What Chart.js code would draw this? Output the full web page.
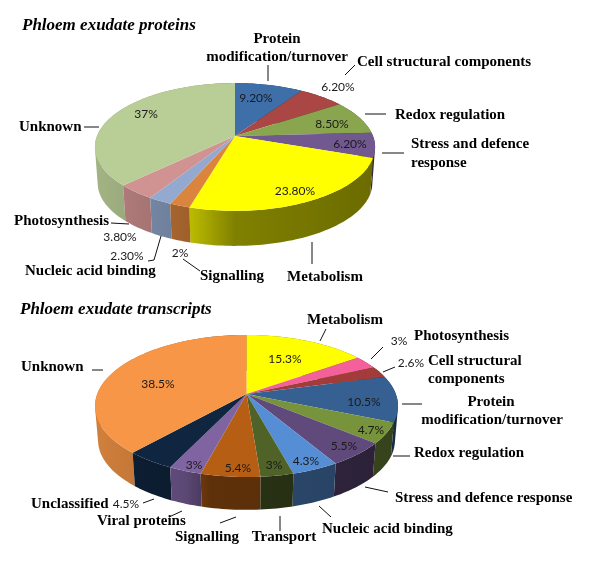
<!DOCTYPE html>
<html>
<head>
<meta charset="utf-8">
<style>
  html, body { margin: 0; padding: 0; background: #fff; }
  canvas { position: absolute; left: 0; filter: blur(0.3px); }
  #proteinChart { top: 0; }
  #transcriptChart { top: 290px; }
</style>
<script src="https://cdn.jsdelivr.net/npm/chart.js@4"></script>
</head>
<body>
<canvas id="proteinChart" width="600" height="290"></canvas>
<canvas id="transcriptChart" width="600" height="276"></canvas>
<script>
const proteinCategories = ['Protein modification/turnover', 'Cell structural components', 'Redox regulation', 'Stress and defence response', 'Metabolism', 'Signalling', 'Nucleic acid binding', 'Photosynthesis', 'Unknown'];
const proteinValues = [9.2, 6.2, 8.5, 6.2, 23.8, 2, 2.3, 3.8, 37];
const proteinPercents = ['9.20%', '6.20%', '8.50%', '6.20%', '23.80%', '2%', '2.30%', '3.80%', '37%'];
const proteinColors = ['#3F6FA8', '#AA4643', '#89A54E', '#71588F', '#FFFF00', '#DB843D', '#93A9CF', '#D19392', '#B9CD96'];

const transcriptCategories = ['Metabolism', 'Photosynthesis', 'Cell structural components', 'Protein modification/turnover', 'Redox regulation', 'Stress and defence response', 'Nucleic acid binding', 'Transport', 'Signalling', 'Viral proteins', 'Unclassified', 'Unknown'];
const transcriptValues = [15.3, 3, 2.6, 10.5, 4.7, 5.5, 4.3, 3, 5.4, 3, 4.5, 38.5];
const transcriptPercents = ['15.3%', '3%', '2.6%', '10.5%', '4.7%', '5.5%', '4.3%', '3%', '5.4%', '3%', '4.5%', '38.5%'];
const transcriptColors = ['#FFFF00', '#F4609A', '#A33B3B', '#376092', '#77933C', '#604A7B', '#558ED5', '#4F6228', '#B65F14', '#8064A2', '#10253F', '#F79646'];

// where the percent labels sit, same order as the values
const proteinPercentPos = [[256,98],[338,87],[332,124],[350,144],[295,191],[180,253],[127,256],[120,237],[146,114]];
const transcriptPercentPos = [[285,69],[399,51],[411,73],[364,112],[371,140],[344,156],[306,171],[274,175],[238,178],[194,175],[126,214],[158,94]];

// [text, x, y, align]
const proteinNames = [
  ['Protein', 277, 39, 'center'], ['modification/turnover', 277, 57, 'center'],
  ['Cell structural components', 357, 62, 'left'], ['Redox regulation', 395, 115, 'left'],
  ['Stress and defence', 411, 144, 'left'], ['response', 411, 163, 'left'],
  ['Metabolism', 325, 277, 'center'], ['Signalling', 232, 276, 'center'],
  ['Nucleic acid binding', 25, 271, 'left'], ['Photosynthesis', 14, 221, 'left'], ['Unknown', 19, 127, 'left']
];
const transcriptNames = [
  ['Metabolism', 345, 30, 'center'], ['Photosynthesis', 414, 46, 'left'],
  ['Cell structural', 428, 71, 'left'], ['components', 428, 89, 'left'],
  ['Protein', 491, 112, 'center'], ['modification/turnover', 492, 130, 'center'],
  ['Redox regulation', 414, 163, 'left'], ['Stress and defence response', 395, 208, 'left'],
  ['Nucleic acid binding', 322, 239, 'left'], ['Transport', 284, 247, 'center'],
  ['Signalling', 207, 247, 'center'], ['Viral proteins', 97, 231, 'left'],
  ['Unclassified', 31, 214, 'left'], ['Unknown', 21, 77, 'left']
];

const proteinLeaders = [
  [[268,65],[268,81]], [[345,75],[355,65]], [[365,114],[386,114]], [[382,153],[404,153]],
  [[312,242],[312,264]], [[183,259],[200,271]], [[161,236],[154,260],[148,261]],
  [[111,223],[129,224]], [[84,127],[99,127]]
];
const transcriptLeaders = [
  [[326,39],[320,51]], [[383,57],[371,69]], [[395,77],[383,82]], [[402,114],[422,114]],
  [[393,166],[410,166]], [[365,197],[388,202]], [[319,216],[331,227]], [[280,226],[280,241]],
  [[236,227],[220,233]], [[182,221],[169,227]], [[154,209],[143,213]], [[92,80],[103,80]]
];

function shade(hex, f) {
  const n = parseInt(hex.slice(1), 16);
  return `rgb(${Math.round((n >> 16) * f)},${Math.round(((n >> 8) & 255) * f)},${Math.round((n & 255) * f)})`;
}

// Excel style 3D pie: takes the angles of the arc elements and puts them through a perspective view
function pie3d(view, percents, percentPos, names, leaders) {
  const top = (a) => {
    const w = 1 - view.k * Math.sin(a);
    return [view.x + view.R * Math.cos(a) / w, view.y + view.S * Math.sin(a) / w];
  };
  const bottom = (a) => {
    const w = 1 - view.k * Math.sin(a);
    return [view.x + view.R * view.shrink * Math.cos(a) / w, view.y2 + view.S * view.shrink * Math.sin(a) / w];
  };
  const steps = (e) => Math.max(2, Math.ceil((e.endAngle - e.startAngle) * 40));
  return {
    id: 'pie3d',
    beforeDatasetsDraw(chart) {
      const ctx = chart.ctx;
      const arcs = chart.getDatasetMeta(0).data;
      const colors = chart.data.datasets[0].backgroundColor;
      const left = view.x - view.R * 1.02, right = view.x + view.R * 1.02;

      // walls first, back ones before front ones
      // all quads of a wall go in one path, same winding, so no seams show between them
      const order = arcs.map((e, i) => i).sort((p, q) =>
        Math.sin((arcs[p].startAngle + arcs[p].endAngle) / 2) - Math.sin((arcs[q].startAngle + arcs[q].endAngle) / 2));
      order.forEach(i => {
        const e = arcs[i], n = steps(e), da = (e.endAngle - e.startAngle) / n;
        const g = ctx.createLinearGradient(left, 0, right, 0);
        view.light.forEach(([pos, f]) => g.addColorStop(pos, shade(colors[i], f)));
        ctx.beginPath();
        for (let j = 0; j < n; j++) {
          const a = e.startAngle + j * da, b = a + da;
          const quad = [top(a), top(b), bottom(b), bottom(a)];
          let area = 0;
          quad.forEach((p, m) => { const o = quad[(m + 1) % 4]; area += p[0] * o[1] - o[0] * p[1]; });
          if (area < 0) quad.reverse();
          quad.forEach((p, m) => m ? ctx.lineTo(p[0], p[1]) : ctx.moveTo(p[0], p[1]));
          ctx.closePath();
        }
        ctx.fillStyle = g;
        ctx.fill();
      });

      // top faces
      arcs.forEach((e, i) => {
        const n = steps(e), da = (e.endAngle - e.startAngle) / n;
        ctx.beginPath();
        ctx.moveTo(view.x, view.y);
        for (let j = 0; j <= n; j++) { const p = top(e.startAngle + j * da); ctx.lineTo(p[0], p[1]); }
        ctx.closePath();
        ctx.fillStyle = colors[i];
        ctx.fill();
      });
      return false;
    },
    afterDraw(chart) {
      const ctx = chart.ctx;
      ctx.save();
      ctx.strokeStyle = '#111';
      ctx.lineWidth = 1;
      leaders.forEach(pts => {
        ctx.beginPath();
        pts.forEach((p, i) => i ? ctx.lineTo(p[0], p[1]) : ctx.moveTo(p[0], p[1]));
        ctx.stroke();
      });
      ctx.textBaseline = 'middle';
      ctx.fillStyle = '#1a1a1a';
      ctx.textAlign = 'center';
      ctx.font = '12px Lato';
      percents.forEach((t, i) => ctx.fillText(t, percentPos[i][0], percentPos[i][1]));
      ctx.fillStyle = '#000';
      ctx.font = 'bold 15px "Liberation Serif"';
      names.forEach(([t, x, y, align]) => {
        ctx.textAlign = align;
        ctx.fillText(t, x, y);
      });
      ctx.restore();
    }
  };
}

function makeChart(id, title, titleLeft, titleTop, categories, values, colors, plugin) {
  return new Chart(document.getElementById(id), {
    type: 'pie',
    data: { labels: categories, datasets: [{ data: values, backgroundColor: colors, borderWidth: 0 }] },
    options: {
      responsive: false,
      animation: false,
      layout: { padding: { left: titleLeft } },
      plugins: {
        legend: { display: false },
        tooltip: { enabled: false },
        title: {
          display: true, text: title, align: 'start', color: '#000',
          font: { family: '"Liberation Serif"', size: 17, style: 'italic', weight: 'bold' },
          padding: { top: titleTop, bottom: 4 }
        }
      }
    },
    plugins: [plugin]
  });
}

makeChart('proteinChart', 'Phloem exudate proteins', 22, 15, proteinCategories, proteinValues, proteinColors,
  pie3d({ x: 235, y: 136, R: 138, S: 62, k: 0.172, y2: 172.5, shrink: 0.98, light: [[0, 0.88], [0.35, 0.72], [0.5, 0.5], [1, 0.42]] },
    proteinPercents, proteinPercentPos, proteinNames, proteinLeaders));

makeChart('transcriptChart', 'Phloem exudate transcripts', 20, 9, transcriptCategories, transcriptValues, transcriptColors,
  pie3d({ x: 246.5, y: 104, R: 149.3, S: 69, k: 0.169, y2: 138.5, shrink: 0.98, light: [[0, 0.85], [0.3, 0.72], [0.38, 0.52], [1, 0.45]] },
    transcriptPercents, transcriptPercentPos, transcriptNames, transcriptLeaders));
</script>
</body>
</html>
